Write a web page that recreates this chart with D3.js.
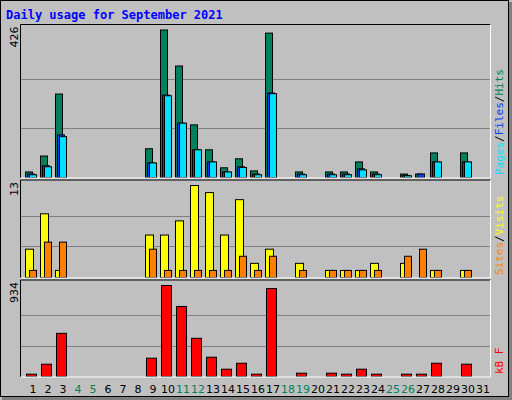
<!DOCTYPE html>
<html><head><meta charset="utf-8">
<script src="https://cdn.jsdelivr.net/npm/d3@7"></script>
<style>body{margin:0;background:#fff}</style></head>
<body><svg id="c" width="512" height="400"></svg>
<script>
const days = d3.range(1,32);
const weekends = [4,5,11,12,18,19,25,26];
const hits  = [16,62,241,0,0,0,0,0,83,426,322,152,80,28,54,19,417,0,16,0,16,16,45,16,0,10,10,71,0,71,0];
const files = [10,34,123,0,0,0,0,0,42,238,157,80,45,16,31,10,244,0,10,0,10,10,25,10,0,6,10,45,0,45,0];
const pages = [8,31,118,0,0,0,0,0,42,236,157,80,45,16,29,8,242,0,8,0,8,8,22,8,0,5,0,45,0,45,0];
const visits= [4,9,1,0,0,0,0,0,6,6,8,13,12,6,11,2,4,0,2,0,1,1,1,2,0,2,0,1,0,1,0];
const sites = [1,5,5,0,0,0,0,0,4,1,1,1,1,1,3,1,3,0,1,0,1,1,1,1,0,3,4,1,0,1,0];
const kbytes= [24,126,443,0,0,0,0,0,188,934,719,392,198,75,136,24,903,0,34,0,34,24,75,24,0,24,24,136,0,126,0];

const svg = d3.select("#c");
svg.append("rect").attr("x",0).attr("y",0).attr("width",512).attr("height",400).attr("fill","#c0c0c0");
svg.append("rect").attr("x",0.5).attr("y",0.5).attr("width",508).attr("height",396).attr("fill","none").attr("stroke","#000");
svg.append("rect").attr("x",2).attr("y",397).attr("width",510).attr("height",3).attr("fill","#808080");
svg.append("rect").attr("x",509).attr("y",2).attr("width",3).attr("height",398).attr("fill","#808080");
svg.append("text").attr("x",6).attr("y",19).text("Daily usage for September 2021")
  .attr("font-family","DejaVu Sans Mono").attr("font-weight","bold").attr("font-size",12).attr("fill","#0000ff");

const x = d3.scaleBand().domain(days).range([25,490]).paddingInner(0);
const L=20.5, R=490.5;
function panel(y0,y1,max,label,series,rlabels){
  svg.append("rect").attr("x",L).attr("y",y0).attr("width",R-L).attr("height",y1-y0).attr("fill","#c0c0c0");
  const y = d3.scaleLinear().domain([0,max]).range([y1-1,y0+5]);
  [1/3,2/3].forEach(f=>{const gy=Math.round(y(max*f))+0.5;
    svg.append("line").attr("x1",L).attr("x2",R).attr("y1",gy).attr("y2",gy).attr("stroke","#808080");});
  series.forEach(s=>{
    const pts = s.data.map((v,i)=>({day:days[i],v})).filter(p=>p.v>0);
    svg.append("g").selectAll("rect").data(pts).join("rect")
      .attr("x",p=>x(p.day)+s.off+0.5).attr("width",s.w)
      .attr("y",p=>y(p.v)+0.5).attr("height",p=>y(0)-y(p.v))
      .attr("fill",s.color).attr("stroke","#000").attr("stroke-width",1);
  });
  svg.append("path").attr("d",`M${L},${y1}V${y0}H${R}`).attr("stroke","#000").attr("fill","none");
  svg.append("path").attr("d",`M${L},${y1}H${R}V${y0}`).attr("stroke","#fff").attr("fill","none");
  svg.append("text").attr("transform",`translate(18,${y0+2}) rotate(-90)`).attr("text-anchor","end")
    .attr("font-family","DejaVu Sans").attr("font-size",11).text(label);
  const t = svg.append("text").attr("transform",`translate(503,${y1-3}) rotate(-90)`)
    .attr("font-family","DejaVu Sans Mono").attr("font-size",11);
  rlabels.forEach((r,i)=>{
    if(i>0) t.append("tspan").attr("fill","#000").text("/");
    t.append("tspan").attr("fill",r[1]).text(r[0]);
  });
}
panel(24.5,178,426,"426",[
  {data:hits,color:"#00805c",off:0,w:7},
  {data:files,color:"#0040ff",off:2,w:7},
  {data:pages,color:"#00e0ff",off:4,w:7}],
  [["Pages","#00e0ff"],["Files","#0040ff"],["Hits","#00805c"]]);
panel(180,278,13,"13",[
  {data:visits,color:"#ffff00",off:0,w:8},
  {data:sites,color:"#ff8000",off:4,w:7}],
  [["Sites","#ff8000"],["Visits","#ffff00"]]);
panel(280,377,934,"934",[
  {data:kbytes,color:"#ff0000",off:1,w:10}],
  [["kB F","#ff0000"]]);

svg.append("g").selectAll("text").data(days).join("text")
  .attr("x",d=>x(d)+8).attr("y",393).attr("text-anchor","middle")
  .attr("font-family","DejaVu Sans").attr("font-size",11)
  .attr("fill",d=>weekends.includes(d)?"#00805c":"#000").text(d=>d);
</script></body></html>
